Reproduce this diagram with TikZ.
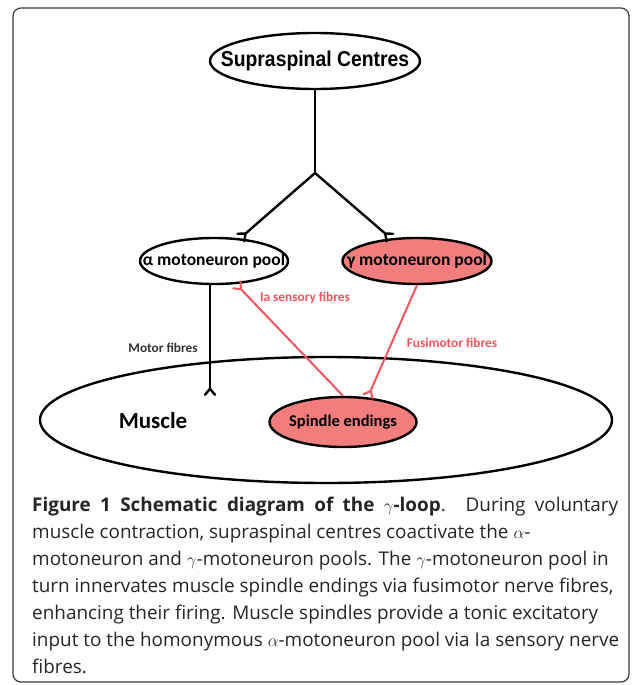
\documentclass[tikz,border=0pt]{standalone}
\usepackage{fontspec}
\setmainfont{Open Sans}
\newfontfamily\arialf[FakeStretch=0.9]{Liberation Sans}
\newfontfamily\calf{Carlito}
\usetikzlibrary{shapes.geometric,arrows.meta}
\definecolor{salmon}{RGB}{242,125,125}
\definecolor{redline}{RGB}{238,85,95}
\definecolor{framegray}{RGB}{60,60,60}
\definecolor{captext}{RGB}{40,36,37}
\newcommand{\zw}[1]{\makebox[0pt]{#1}}
\tikzset{
  oval/.style={ellipse, draw=black, line width=2.4pt, inner sep=0pt},
  fork/.style={-{Straight Barb[reversed,length=6pt,width=10pt,round]}},
  blackline/.style={line width=2.4pt, black},
  redconn/.style={line width=2pt, redline},
  smalllab/.style={font=\calf\bfseries\fontsize{13.3}{15}\selectfont},
  poollab/.style={font=\calf\bfseries\fontsize{17.5}{20}\selectfont},
}
\begin{document}
\begin{tikzpicture}[x=1pt,y=-1pt]
\useasboundingbox (0,0) rectangle (632,685);
\draw[framegray, line width=1.2pt, rounded corners=8pt] (13,8) rectangle (629,682);

\node[oval, minimum width=210pt, minimum height=56pt, font=\arialf\bfseries\fontsize{21.5}{24}\selectfont] (sup) at (315,61) {\zw{Supraspinal Centres}};
\coordinate (j) at (315,173);

\node[oval, fill=white, minimum width=572pt, minimum height=126pt] (muscle) at (326,420) {};
\node[font=\calf\bfseries\fontsize{23}{26}\selectfont] (mlab) at (153,421) {Muscle};

\node[oval, fill=white, minimum width=148pt, minimum height=46pt, poollab] (alpha) at (214,261) {\zw{α motoneuron pool}};
\node[oval, fill=salmon, minimum width=149pt, minimum height=46pt, poollab] (gamma) at (417,261) {\zw{γ motoneuron pool}};
\node[oval, fill=salmon, minimum width=147pt, minimum height=50pt, font=\calf\bfseries\fontsize{16.5}{19}\selectfont] (spin) at (343,422) {\zw{Spindle endings}};

\draw[blackline] (sup) -- (j);
\draw[blackline, fork] (j) -- (alpha);
\draw[blackline, fork] (j) -- (gamma);

\coordinate (motend) at (210,396);
\draw[blackline, fork] (alpha.south -| motend) -- (motend);
\node[smalllab, text=black!80] (motlab) at (163,348) {Motor fibres};

\draw[redconn, fork] (spin.north) -- (alpha);
\node[smalllab, text=redline] (ialab) at (305,298) {Ia sensory fibres};

\draw[redconn, fork] (gamma.south) -- (spin.45);
\node[smalllab, text=redline] (fuslab) at (452,343) {Fusimotor fibres};

\node[anchor=north west, align=left, text=captext, font=\fontsize{18.9}{27}\selectfont, inner sep=0pt] (cap) at (32,497)
{\makebox[586pt][s]{\textbf{Figure 1 Schematic diagram of the $\gamma$-loop}. During voluntary}\\
muscle contraction, supraspinal centres coactivate the $\alpha$-\\
motoneuron and $\gamma$-motoneuron pools. The $\gamma$-motoneuron pool in\\
turn innervates muscle spindle endings via fusimotor nerve fibres,\\
enhancing their firing. Muscle spindles provide a tonic excitatory\\
input to the homonymous $\alpha$-motoneuron pool via Ia sensory nerve\\
fibres.};
\end{tikzpicture}
\end{document}
